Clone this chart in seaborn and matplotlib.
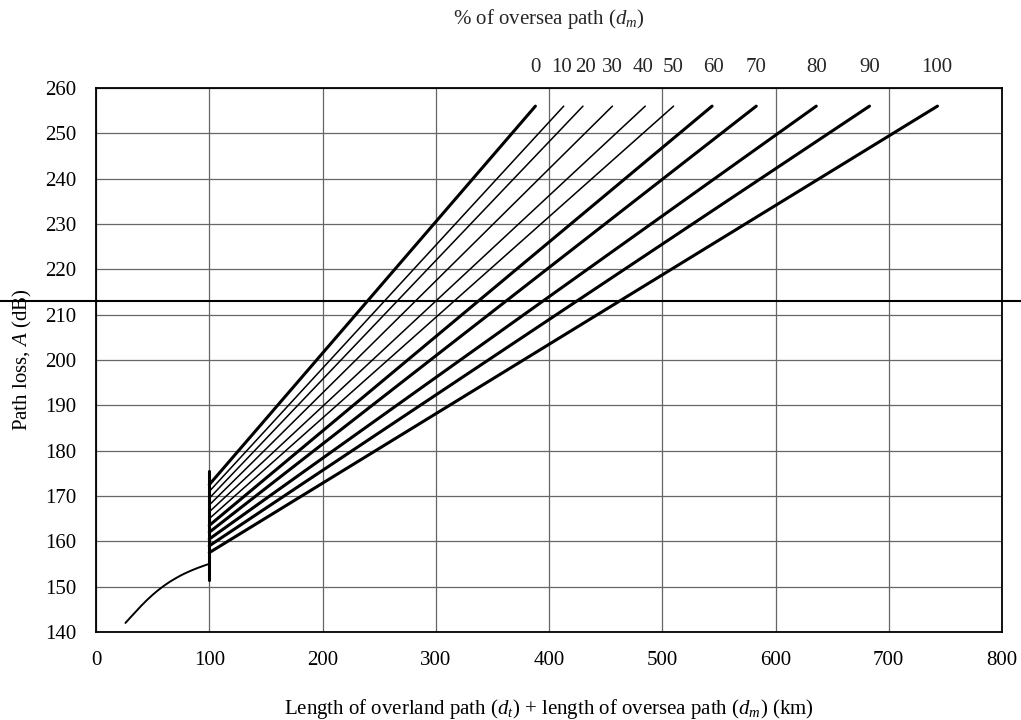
import matplotlib
matplotlib.use("Agg")
import matplotlib.pyplot as plt
import seaborn as sns
import pandas as pd

# ---- data ----
pct_labels = ["0", "10", "20", "30", "40", "50", "60", "70", "80", "90", "100"]
start_dist = 100
start_loss = [172.5, 171.0, 169.5, 168.0, 166.5, 165.0, 163.5, 162.0, 160.5, 159.0, 157.5]
end_dist = [388, 413, 430, 456, 485, 510, 544, 583, 636, 683, 743]
end_loss = 256
label_dist = [388, 411.5, 432, 456, 483, 509.5, 545, 583, 636, 683.5, 742.5]
thick = [True, False, False, False, False, False, True, True, True, True, True]

curve_x = [26, 30, 35, 40, 45, 50, 55, 60, 65, 70, 75, 80, 85, 90, 95, 99]
curve_y = [142.0, 143.1, 144.45, 145.8, 147.05, 148.2, 149.25, 150.2, 151.05,
           151.8, 152.5, 153.1, 153.65, 154.15, 154.6, 154.95]

bar_x = [100, 100]
bar_y = [151.5, 175.5]

ref_loss = 213

xticks = [0, 100, 200, 300, 400, 500, 600, 700, 800]
yticks = [140, 150, 160, 170, 180, 190, 200, 210, 220, 230, 240, 250, 260]

# ---- style ----
sns.set_theme(style="white")
plt.rcParams["font.family"] = ["Liberation Serif", "DejaVu Serif"]
plt.rcParams["mathtext.fontset"] = "custom"
plt.rcParams["mathtext.rm"] = "Liberation Serif"
plt.rcParams["mathtext.it"] = "Liberation Serif:italic"
FS = 15

fig = plt.figure(figsize=(10.21, 7.2), dpi=100)
ax = fig.add_axes([96/1021, 1-632/720, 906/1021, 544/720])

rows = []
for lab, s, e in zip(pct_labels, start_loss, end_dist):
    rows.append({"pct": lab, "d": start_dist, "A": s})
    rows.append({"pct": lab, "d": e, "A": end_loss})
df = pd.DataFrame(rows)

for lab, th in zip(pct_labels, thick):
    sub = df[df["pct"] == lab]
    sns.lineplot(data=sub, x="d", y="A", ax=ax, color="black",
                 linewidth=2.2 if th else 1.1, estimator=None, sort=False,
                 legend=False)

curve_df = pd.DataFrame({"d": curve_x, "A": curve_y})
sns.lineplot(data=curve_df, x="d", y="A", ax=ax, color="black", linewidth=1.4,
             estimator=None, sort=False, legend=False)
ax.plot(bar_x, bar_y, color="black", linewidth=2.2)

ax.axhline(ref_loss, xmin=-96/906, xmax=(1021-96)/906, color="black",
           linewidth=1.5, clip_on=False, zorder=5)

# percentage labels above line ends
for lab, e in zip(pct_labels, label_dist):
    ax.text(e, 264.6, lab, ha="center", va="center", fontsize=FS, clip_on=False)

ax.set_xlim(0, 800)
ax.set_ylim(140, 260)
ax.set_xticks(xticks)
ax.set_yticks(yticks)
ax.tick_params(axis="both", length=0, pad=14, labelsize=FS, colors="black")
ax.grid(True, color="#666666", linewidth=0.9)
ax.set_axisbelow(True)
for sp in ax.spines.values():
    sp.set_color("black")
    sp.set_linewidth(1.3)

ax.set_xlabel(r"Length of overland path ($d_t$) + length of oversea path ($d_m$) (km)",
              fontsize=FS, labelpad=19, color="black")
ax.set_ylabel(r"Path loss, $A$ (dB)", fontsize=FS, labelpad=8, color="black")
fig.text(549/1021, 1-19/720, r"% of oversea path ($d_m$)", ha="center", va="center",
         fontsize=FS)

fig.savefig("out.png", dpi=100)
